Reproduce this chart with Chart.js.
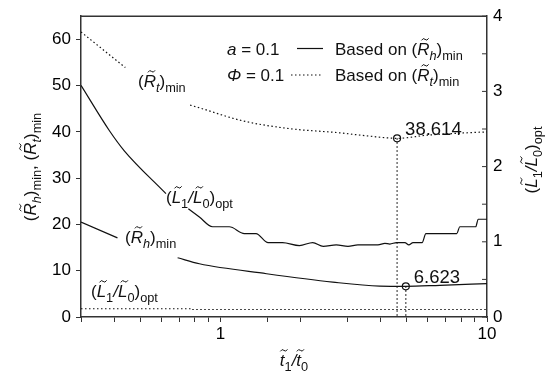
<!DOCTYPE html>
<html>
<head>
<meta charset="utf-8">
<script src="https://cdn.jsdelivr.net/npm/chart.js@4.4.1/dist/chart.umd.min.js"></script>
<style>
  body { margin: 0; background: #fff; }
</style>
</head>
<body>
<canvas id="myChart" width="554" height="374"></canvas>
<script>
// (R~t)min, dotted, left axis  (null = gap under the label)
var rtX = [0.3, 0.44, 0.6, 0.77, 0.834, 1.21, 1.82, 2.8, 3.6, 4.6, 6.0, 7.7, 10];
var rtY = [61.6, 53.9, null, 45.8, 45.2, 42.4, 40.7, 39.8, 39.1, 38.614, 39.3, 39.7, 40.0];

// (R~h)min, solid, left axis
var rhX = [0.3, 0.411, 0.55, 0.691, 0.834, 1.49, 2.64, 3.96, 4.96, 6.66, 10];
var rhY = [20.5, 17.1, null, 12.8, 11.5, 9.35, 7.54, 6.68, 6.623, 6.85, 7.2];

// (L~1/L~0)opt based on (R~h)min, solid, right axis
var lhX = [0.3, 0.383, 0.436, 0.625, 0.69, 0.758, 0.834, 0.935, 1.08, 1.23, 1.36, 1.51, 1.71, 1.98, 2.22, 2.43,
           2.72, 3.01, 3.28, 3.90, 4.14, 4.32, 4.58, 4.92, 5.09, 5.28, 5.71, 5.90, 7.70, 7.91, 9.07, 9.27, 10];
var lhY = [3.08, 2.48, 2.21, 1.64, null, 1.44, 1.33, 1.20, 1.20, 1.11, 1.11, 0.99, 0.99, 0.95, 0.99, 0.94,
           0.96, 0.94, 0.96, 0.96, 0.98, 0.97, 0.99, 0.99, 0.96, 0.99, 0.99, 1.11, 1.11, 1.20, 1.20, 1.30, 1.30];

// (L~1/L~0)opt based on (R~t)min, dotted, right axis
var ltX = [0.3, 0.78, 0.78, 10];
var ltY = [0.11, 0.11, 0.10, 0.10];

// minima
var minX = [4.6, 4.96];
var minY = [38.614, 6.623];
var minLabels = ["38.614", "6.623"];

var FONT = '"Liberation Sans", Arial, sans-serif';
var INK = "#111";

function pts(xs, ys) {
  return xs.map(function (x, i) { return { x: x, y: ys[i] }; });
}

// rich text: [text, flags]  i = italic, s = subscript, t = tilde
function partFont(p, size) {
  var fs = p[1].indexOf("s") >= 0 ? size * 0.75 : size;
  return (p[1].indexOf("i") >= 0 ? "italic " : "") + fs + "px " + FONT;
}
function richWidth(ctx, parts, size) {
  var w = 0;
  parts.forEach(function (p) { ctx.font = partFont(p, size); w += ctx.measureText(p[0]).width; });
  return w;
}
function drawTilde(ctx, cx, cy, w, size) {
  var a = size * 0.06, x0 = cx - w / 2;
  ctx.save();
  ctx.lineWidth = 1;
  ctx.strokeStyle = INK;
  ctx.beginPath();
  ctx.moveTo(x0, cy + a);
  ctx.quadraticCurveTo(x0 + w / 4, cy - 2 * a, x0 + w / 2, cy);
  ctx.quadraticCurveTo(x0 + 3 * w / 4, cy + 2 * a, x0 + w, cy - a);
  ctx.stroke();
  ctx.restore();
}
function drawRich(ctx, parts, x, y, size, align) {
  var cx = align === "center" ? x - richWidth(ctx, parts, size) / 2 : x;
  ctx.textBaseline = "alphabetic";
  ctx.textAlign = "left";
  ctx.fillStyle = INK;
  parts.forEach(function (p) {
    ctx.font = partFont(p, size);
    var pw = ctx.measureText(p[0]).width;
    var dy = p[1].indexOf("s") >= 0 ? size * 0.3 : 0;
    ctx.fillText(p[0], cx, y + dy);
    if (p[1].indexOf("t") >= 0) drawTilde(ctx, cx + pw / 2 + size * 0.1, y - size * 0.92, size * 0.42, size);
    cx += pw;
  });
}

var RH = [["(", ""], ["R", "it"], ["h", "is"], [")", ""], ["min", "s"]];
var RT = [["(", ""], ["R", "it"], ["t", "is"], [")", ""], ["min", "s"]];
var LL = [["(", ""], ["L", "it"], ["1", "s"], ["/", "i"], ["L", "it"], ["0", "s"], [")", ""], ["opt", "s"]];
var TT = [["t", "it"], ["1", "s"], ["/", "i"], ["t", "it"], ["0", "s"]];

var annot = {
  id: "annot",
  afterDraw: function (chart) {
    var ctx = chart.ctx, a = chart.chartArea;
    var sx = chart.scales.x, sy = chart.scales.y, sy2 = chart.scales.y2;
    ctx.save();
    // top frame
    ctx.strokeStyle = "#333";
    ctx.lineWidth = 1.5;
    ctx.beginPath();
    ctx.moveTo(a.left, a.top);
    ctx.lineTo(a.right, a.top);
    ctx.stroke();
    // right axis ticks pointing inward
    ctx.lineWidth = 1;
    for (var v = 0; v <= 4; v += 0.5) {
      var py = sy2.getPixelForValue(v);
      ctx.beginPath();
      ctx.moveTo(a.right - 5, py);
      ctx.lineTo(a.right, py);
      ctx.stroke();
    }
    // curve labels
    drawRich(ctx, RT, 138, 87, 17, "left");
    drawRich(ctx, LL, 166, 203, 17, "left");
    drawRich(ctx, RH, 125, 243, 17, "left");
    drawRich(ctx, LL, 91, 297, 17, "left");
    // legend
    drawRich(ctx, [["a", "i"], [" = 0.1", ""]], 227, 55, 17, "left");
    drawRich(ctx, [["\u03A6", "i"], [" = 0.1", ""]], 227, 81, 17, "left");
    ctx.strokeStyle = INK;
    ctx.lineWidth = 1.2;
    ctx.beginPath();
    ctx.moveTo(297, 48.5);
    ctx.lineTo(323, 48.5);
    ctx.stroke();
    ctx.setLineDash([1.5, 2.5]);
    ctx.beginPath();
    ctx.moveTo(291, 75);
    ctx.lineTo(323, 75);
    ctx.stroke();
    ctx.setLineDash([]);
    drawRich(ctx, [["Based on ", ""]].concat(RH), 335, 55, 17, "left");
    drawRich(ctx, [["Based on ", ""]].concat(RT), 335, 81, 17, "left");
    // minimum values
    for (var i = 0; i < minX.length; i++) {
      var px = sx.getPixelForValue(minX[i]);
      var pyv = sy.getPixelForValue(minY[i]);
      drawRich(ctx, [[minLabels[i], ""]], px + 8, pyv - 3, 18.5, "left");
    }
    // axis titles
    drawRich(ctx, TT, 294, 366, 17, "center");
    ctx.save();
    ctx.translate(36, 167);
    ctx.rotate(-Math.PI / 2);
    drawRich(ctx, RH.concat([[", ", ""]]).concat(RT), 0, 0, 17, "center");
    ctx.restore();
    ctx.save();
    ctx.translate(537, 160);
    ctx.rotate(-Math.PI / 2);
    drawRich(ctx, LL, 0, 0, 17, "center");
    ctx.restore();
    ctx.restore();
  },
};

var tickFont = { family: FONT, size: 17 };
var dots = [1.5, 2.5];

var ctx = document.getElementById("myChart").getContext("2d");
var chart = new Chart(ctx, {
  type: "line",
  data: {
    datasets: [
      { label: "Rt", data: pts(rtX, rtY), yAxisID: "y", borderColor: INK, borderWidth: 1.2, borderDash: dots, cubicInterpolationMode: "monotone" },
      { label: "Rh", data: pts(rhX, rhY), yAxisID: "y", borderColor: INK, borderWidth: 1.2, cubicInterpolationMode: "monotone" },
      { label: "Lh", data: pts(lhX, lhY), yAxisID: "y2", borderColor: INK, borderWidth: 1.2, cubicInterpolationMode: "monotone" },
      { label: "Lt", data: pts(ltX, ltY), yAxisID: "y2", borderColor: INK, borderWidth: 1.2, borderDash: dots },
      { label: "vt", data: pts([minX[0], minX[0]], [minY[0], 0]), yAxisID: "y", borderColor: INK, borderWidth: 1.2, borderDash: dots },
      { label: "vh", data: pts([minX[1], minX[1]], [minY[1], 0]), yAxisID: "y", borderColor: INK, borderWidth: 1.2, borderDash: dots },
      {
        label: "min",
        data: pts(minX, minY),
        yAxisID: "y",
        showLine: false,
        pointRadius: 3.5,
        pointBorderWidth: 1.2,
        pointBorderColor: INK,
        pointBackgroundColor: "#fff",
      },
    ],
  },
  options: {
    responsive: false,
    animation: false,
    layout: { padding: { top: 15, left: 0, right: 0, bottom: 0 } },
    plugins: { legend: { display: false }, tooltip: { enabled: false } },
    elements: { point: { radius: 0 }, line: { tension: 0 } },
    scales: {
      x: {
        type: "logarithmic",
        position: "bottom",
        min: 0.3,
        max: 10,
        afterFit: function (s) { s.height = 57; },
        ticks: {
          autoSkip: false,
          maxRotation: 0,
          color: "#000",
          font: tickFont,
          padding: 2,
          callback: function (v) {
            if (Math.abs(v - 1) < 1e-9) return "1";
            if (Math.abs(v - 10) < 1e-9) return "10";
            return "";
          },
        },
        grid: { drawOnChartArea: false, drawTicks: true, tickLength: 5, color: "#333" },
        border: { color: "#333", width: 1.5 },
      },
      y: {
        type: "linear",
        position: "left",
        min: 0,
        max: 65,
        afterFit: function (s) { s.width = 81; },
        ticks: {
          stepSize: 5,
          color: "#000",
          font: tickFont,
          padding: 5,
          callback: function (v) { return v % 10 === 0 ? String(v) : ""; },
        },
        grid: { drawOnChartArea: false, drawTicks: true, tickLength: 5, color: "#333" },
        border: { color: "#333", width: 1.5 },
      },
      y2: {
        type: "linear",
        position: "right",
        min: 0,
        max: 4,
        afterFit: function (s) { s.width = 67; },
        ticks: {
          stepSize: 0.5,
          color: "#000",
          font: tickFont,
          padding: 6,
          callback: function (v) { return Number.isInteger(v) ? String(v) : ""; },
        },
        grid: { drawOnChartArea: false, drawTicks: false },
        border: { color: "#333", width: 1.5 },
      },
    },
  },
  plugins: [annot],
});
</script>
</body>
</html>
